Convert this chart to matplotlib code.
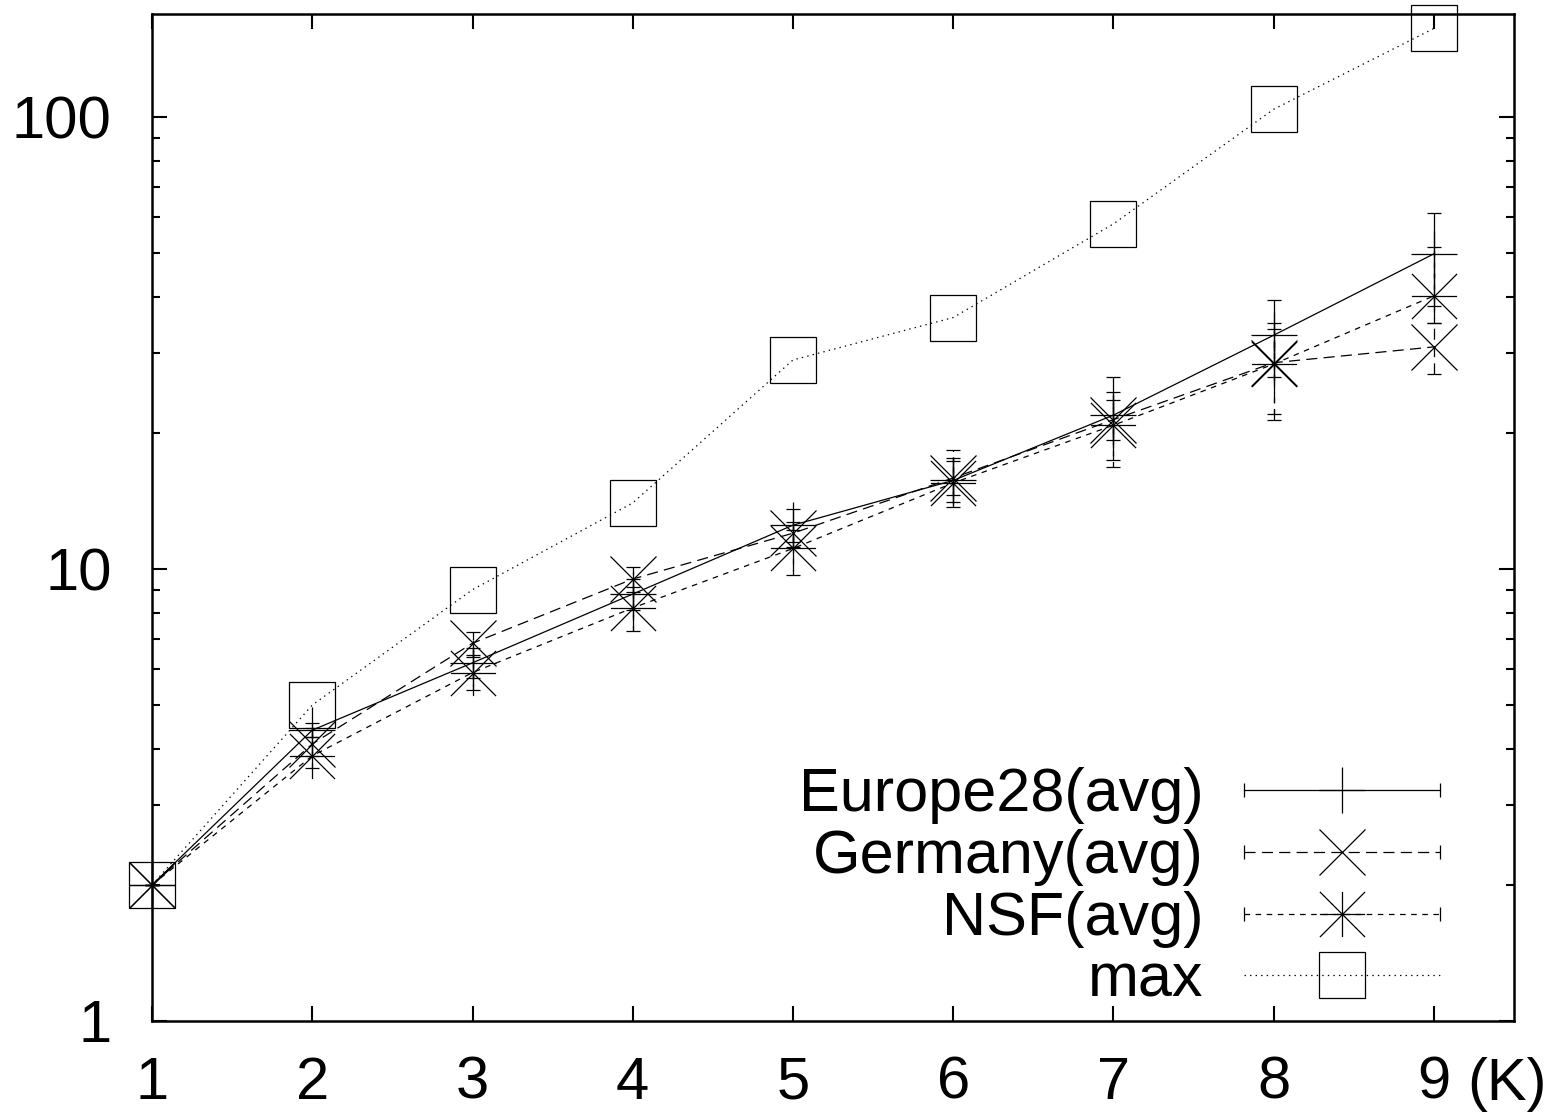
import numpy as np
import matplotlib
matplotlib.use("Agg")
import matplotlib.pyplot as plt
from matplotlib.path import Path
from matplotlib.lines import Line2D
from matplotlib.legend_handler import HandlerLine2D
from matplotlib.ticker import FixedLocator, LogLocator, NullFormatter, FixedFormatter

plt.rcParams['font.family'] = ['Liberation Sans', 'DejaVu Sans']
plt.rcParams['lines.scale_dashes'] = False

# ---- data ----
K = [1, 2, 3, 4, 5, 6, 7, 8, 9]
x_tick_labels = ["1", "2", "3", "4", "5", "6", "7", "8", "9"]
y_tick_values = [1, 10, 100]
y_tick_labels = ["1", "10", "100"]

europe = [2.0, 4.4, 6.2, 8.8, 12.5, 15.7, 21.9, 32.9, 49.8]
europe_lo = [2.0, 4.25, 5.75, 8.1, 11.5, 14.1, 17.4, 26.6, 38.1]
europe_hi = [2.0, 4.56, 6.7, 9.5, 13.6, 17.6, 26.6, 39.4, 61.3]

germany = [2.0, 4.1, 6.85, 9.5, 12.0, 15.9, 21.4, 28.6, 31.0]
germany_lo = [2.0, 3.85, 6.4, 8.9, 11.2, 14.6, 19.3, 21.4, 27.0]
germany_hi = [2.0, 4.45, 7.25, 10.1, 12.7, 17.3, 23.7, 35.0, 35.0]

nsf = [2.0, 3.86, 5.9, 8.2, 11.1, 15.5, 20.8, 28.4, 40.2]
nsf_lo = [2.0, 3.63, 5.4, 7.3, 9.7, 13.7, 16.8, 22.0, 35.0]
nsf_hi = [2.0, 4.25, 6.45, 9.1, 12.2, 18.3, 24.6, 34.0, 51.5]

maxv = [2.0, 5.0, 9.0, 14.0, 29.0, 36.0, 58.0, 104.0, 157.0]

labels = ["Europe28(avg)", "Germany(avg)", "NSF(avg)", "max"]

# ---- style ----
LW = 0.9
MS = 32.5
CAP = 5
dash_germany = (0, (8, 4.5))
dash_nsf = (0, (4, 4))
dot_max = (0, (1, 3))

# asterisk marker: + overlaid with x
ast_path = Path(
    [(-1, -1), (1, 1), (-1, 1), (1, -1), (0, -1), (0, 1), (-1, 0), (1, 0)],
    [Path.MOVETO, Path.LINETO] * 4,
)

fig = plt.figure(figsize=(15.66, 11.18), dpi=100)
ax = fig.add_axes([0.0971, 0.0868, 0.9668 - 0.0971, 0.9879 - 0.0868])
ax.set_yscale('log')


def draw(y, lo, hi, ls, marker, label):
    y = np.asarray(y)
    err = [y - np.asarray(lo), np.asarray(hi) - y]
    cont = ax.errorbar(K, y, yerr=err, color='k', linestyle=ls, linewidth=LW,
                       marker=marker, markersize=MS, markeredgewidth=LW,
                       markerfacecolor='none', ecolor='k', elinewidth=LW,
                       capsize=CAP, capthick=LW, label=label, clip_on=False)
    for col in cont[2]:
        col.set_linestyle(ls)
    return cont[0]


h1 = draw(europe, europe_lo, europe_hi, '-', '+', labels[0])
h2 = draw(germany, germany_lo, germany_hi, dash_germany, 'x', labels[1])
h3 = draw(nsf, nsf_lo, nsf_hi, dash_nsf, ast_path, labels[2])
h4, = ax.plot(K, maxv, color='k', linestyle=dot_max, linewidth=LW, marker='s',
              markersize=MS, markeredgewidth=LW, markerfacecolor='none',
              label=labels[3], clip_on=False)

ax.set_xlim(1, 9.5)
ax.set_ylim(1, 169.4)

ax.xaxis.set_major_locator(FixedLocator(K))
ax.xaxis.set_major_formatter(FixedFormatter(x_tick_labels))
ax.yaxis.set_major_locator(FixedLocator(y_tick_values))
ax.yaxis.set_major_formatter(FixedFormatter(y_tick_labels))
ax.yaxis.set_minor_locator(LogLocator(base=10, subs=np.arange(2, 10)))
ax.yaxis.set_minor_formatter(NullFormatter())

ax.tick_params(axis='both', which='major', direction='in', length=11, width=1.5,
               labelsize=43, top=True, right=True)
ax.tick_params(axis='both', which='minor', direction='in', length=6, width=1.5,
               top=True, right=True)
ax.tick_params(axis='x', which='major', pad=25)
ax.tick_params(axis='y', which='major', pad=29)
for s in ax.spines.values():
    s.set_linewidth(1.8)

ax.text(0.9655, -0.0785, "(K)", transform=ax.transAxes, fontsize=43,
        ha='left', va='baseline')


class CapHandler(HandlerLine2D):
    def create_artists(self, legend, orig_handle, xdescent, ydescent,
                       width, height, fontsize, trans):
        arts = super().create_artists(legend, orig_handle, xdescent, ydescent,
                                      width, height, fontsize, trans)
        y = (height - ydescent) / 2
        caps = Line2D([-xdescent, -xdescent + width], [y, y], linestyle='none',
                      marker='|', markersize=10, markeredgewidth=LW, color='k')
        caps.set_transform(trans)
        return list(arts) + [caps]


leg = ax.legend(handles=[h1, h2, h3, h4], labels=labels,
                handler_map={h1: CapHandler(), h2: CapHandler(), h3: CapHandler()},
                loc='lower right', bbox_to_anchor=(0.9457, 0.011),
                borderaxespad=0, borderpad=0, frameon=False, markerfirst=False,
                numpoints=1, fontsize=44, handlelength=3.2, handletextpad=0.67,
                labelspacing=0.08)
leg._legend_handle_box.get_children()[0].align = 'right'

fig.savefig("out.png", dpi=100)
